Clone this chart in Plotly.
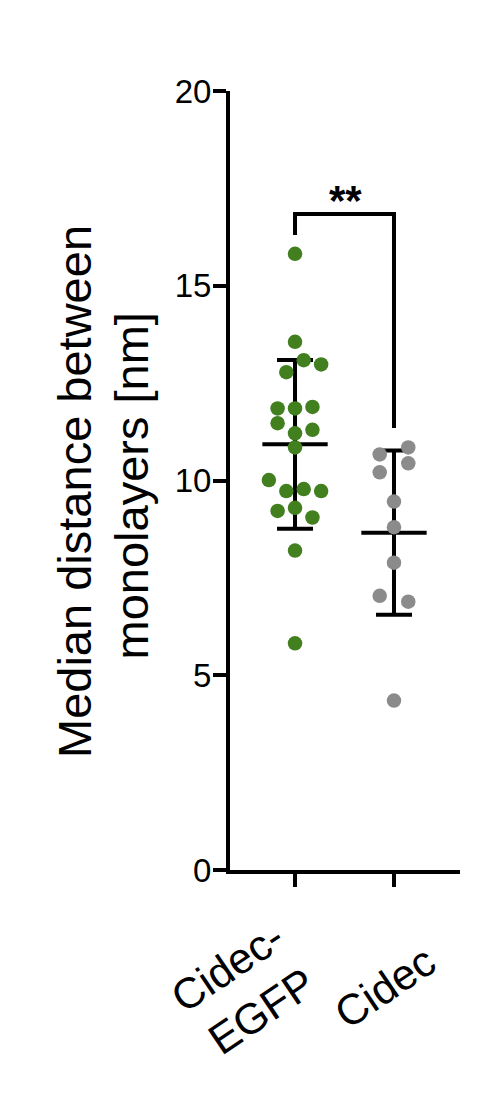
import numpy as np
import plotly.graph_objects as go

# ---- data ----
categories = ["Cidec-<br>EGFP", "Cidec"]
egfp_values = [15.82, 13.56, 13.09, 12.98, 12.78, 11.85, 11.85, 11.89, 11.47, 11.21, 11.30,
               10.85, 10.01, 9.73, 9.78, 9.73, 9.22, 9.30, 9.05, 8.20, 5.82]
cidec_values = [10.85, 10.67, 10.44, 10.21, 9.46, 8.80, 7.89, 7.04, 6.89, 4.35]
y_tickvals = [0, 5, 10, 15, 20]
significance = "**"
y_title_lines = ["Median distance between", "monolayers [nm]"]

# ---- styling / layout helpers (not data) ----
egfp_jitter = [0, 0, 1, 3, -1, -2, 0, 2, -2, 0, 2, 0, -3, -1, 1, 3, -2, 0, 2, 0, 0]
cidec_jitter = [1.64, -1.64, 1.64, -1.64, 0, 0, 0, -1.64, 1.64, 0]
slot = 0.088
GREEN = "#417f1f"
GRAY = "#8b8b8b"
FONT = "Arial, Liberation Sans, sans-serif"

groups = [
    (0, egfp_values, egfp_jitter, GREEN),
    (1, cidec_values, cidec_jitter, GRAY),
]

fig = go.Figure()

# mean and SD error bars (drawn under the points)
for pos, vals, jit, col in groups:
    arr = np.array(vals)
    m = arr.mean()
    sd = arr.std(ddof=1)
    fig.add_trace(go.Scatter(
        x=[pos], y=[m], mode="markers",
        marker=dict(size=1, color="rgba(0,0,0,0)"),
        error_y=dict(type="data", array=[sd], visible=True, color="black",
                     thickness=4, width=18),
        showlegend=False, hoverinfo="skip"))
    fig.add_trace(go.Scatter(
        x=[pos - 0.33, pos + 0.33], y=[m, m], mode="lines",
        line=dict(color="black", width=4), showlegend=False, hoverinfo="skip"))

# points
for pos, vals, jit, col in groups:
    fig.add_trace(go.Scatter(
        x=[pos + j * slot for j in jit], y=vals, mode="markers",
        marker=dict(size=14.5, color=col, line=dict(width=0)),
        showlegend=False, cliponaxis=False))

# significance bracket
top_y = 16.84
fig.add_shape(type="path",
              path=f"M 0,16.3 L 0,{top_y} L 1,{top_y} L 1,11.35",
              xref="x", yref="y", line=dict(color="black", width=4))
fig.add_annotation(x=0.505, y=17.2, xref="x", yref="y", text=f"<b>{significance}</b>",
                   showarrow=False, font=dict(family=FONT, size=42, color="black"),
                   xanchor="center", yanchor="middle")

# category labels (rotated)
label_shifts = [(-52, -120), (-9, -117)]
for i, (lab, (dx, dy)) in enumerate(zip(categories, label_shifts)):
    fig.add_annotation(x=i, y=0, xref="x", yref="y", text=lab, showarrow=False,
                       textangle=-34, xanchor="center", yanchor="middle",
                       xshift=dx, yshift=dy, align="right",
                       font=dict(family=FONT, size=43, color="black"))

# y-axis title (two lines)
for line, dx, dy in zip(y_title_lines, [-155.5, -99], [-11, -6]):
    fig.add_annotation(x=0, y=0.5, xref="paper", yref="paper", text=line,
                       showarrow=False, textangle=-90, xanchor="center",
                       yanchor="middle", xshift=dx, yshift=dy,
                       font=dict(family=FONT, size=47, color="black"))

# page body has an 8px default margin, so the figure is 8px smaller and shifted
fig.update_layout(
    width=469, height=1091,
    margin=dict(l=222, r=17, t=83, b=229),
    paper_bgcolor="white", plot_bgcolor="white",
    font=dict(family=FONT, color="black"),
    showlegend=False,
)
fig.update_xaxes(range=[-0.657, 1.667], tickvals=[0, 1], showticklabels=False,
                 ticks="outside", ticklen=13, tickwidth=4, tickcolor="black",
                 showline=True, linewidth=4, linecolor="black",
                 showgrid=False, zeroline=False)
fig.update_yaxes(range=[0, 20], tickvals=y_tickvals, ticks="outside", ticklen=13,
                 tickwidth=4, tickcolor="black", showline=True, linewidth=4,
                 linecolor="black", showgrid=False, zeroline=False,
                 tickfont=dict(family=FONT, size=33, color="black"),
                 ticklabelstandoff=-5)

fig.write_html("out.html")
